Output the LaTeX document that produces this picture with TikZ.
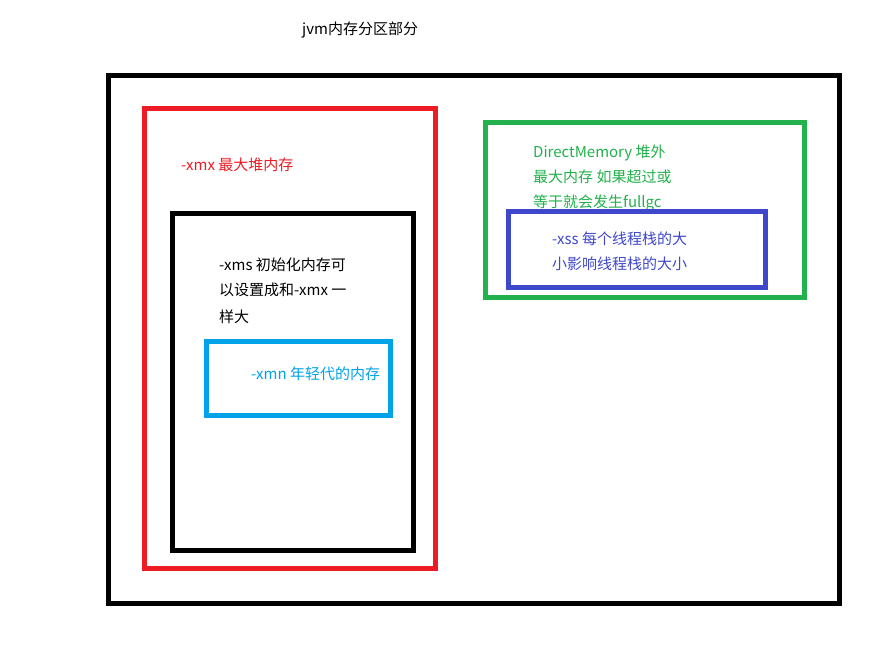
\documentclass[tikz,border=0pt]{standalone}
\usepackage{fontspec}
\setmainfont{Noto Sans CJK SC}
\definecolor{pred}{HTML}{ED1C24}
\definecolor{pgreen}{HTML}{22B14C}
\definecolor{pblue}{HTML}{3F48CC}
\definecolor{pcyan}{HTML}{00A2E8}
\tikzset{
  frame/.style={line width=5pt, line join=miter},
  lbl/.style={anchor=base west, inner sep=0pt, font=\fontsize{15}{18}\selectfont},
}
\begin{document}
\begin{tikzpicture}[x=1pt,y=-1pt]
\useasboundingbox[fill=white] (0,0) rectangle (884,659);
% title
\node[lbl] (title) at (302,34.7) {jvm内存分区部分};
% outer frame
\draw[frame,black] (108.5,75) rectangle (839.5,603.5);
% red heap
\draw[frame,pred] (144.5,108) rectangle (435,568.5);
\node[lbl,text=pred] (xmx) at (181,170.7) {-xmx 最大堆内存};
% inner black
\draw[frame,black] (172.5,213.5) rectangle (413.5,550);
\node[lbl] (xms1) at (219,270.7) {-xms 初始化内存可};
\node[lbl] (xms2) at (219,295.7) {以设置成和-xmx 一};
\node[lbl] (xms3) at (219,322.7) {样大};
% cyan
\draw[frame,pcyan] (206.5,341.5) rectangle (390,415);
\node[lbl,text=pcyan] (xmn) at (251,379.2) {-xmn 年轻代的内存};
% green
\draw[frame,pgreen] (485,122.5) rectangle (804.5,297);
\node[lbl,text=pgreen] (dm1) at (533,157.7) {DirectMemory 堆外};
\node[lbl,text=pgreen] (dm2) at (533,182.7) {最大内存 如果超过或};
\node[lbl,text=pgreen] (dm3) at (533,207.7) {等于就会发生fullgc};
% blue
\draw[frame,pblue] (508,211.5) rectangle (765,287);
\node[lbl,text=pblue] (xss1) at (552,244.7) {-xss 每个线程栈的大};
\node[lbl,text=pblue] (xss2) at (552,269.7) {小影响线程栈的大小};
\end{tikzpicture}
\end{document}
